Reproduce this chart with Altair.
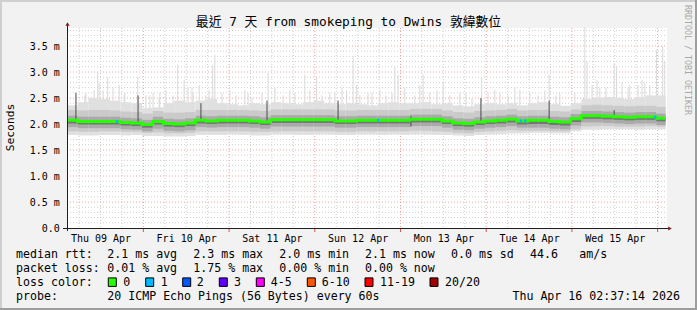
import altair as alt
import pandas as pd

# ---------------- data ----------------
BIN_H = 3  # hours per bin, start = Thu 09 Apr 02:37:14
END_H = 167.6

med = [2.07,2.05,2.05,2.05,2.05,2.03,2.02,1.99,2.05,2.01,
       2.00,2.02,2.07,2.06,2.07,2.07,2.07,2.06,2.04,2.08,
       2.08,2.08,2.08,2.08,2.08,2.06,2.06,2.07,2.07,2.07,
       2.07,2.07,2.09,2.09,2.09,2.06,2.02,2.01,2.04,2.06,
       2.07,2.09,2.06,2.07,2.07,2.05,2.04,2.10,2.16,2.16,
       2.15,2.14,2.13,2.14,2.14,2.11]
top1 = [2.36,2.42,2.50,2.48,2.45,2.42,2.40,2.30,2.32,2.40,2.45,2.42,2.45,2.48,
        2.40,2.38,2.36,2.40,2.38,2.42,2.40,2.38,
        2.42,2.45,2.40,2.38,2.40,2.38,2.36,2.40,
        2.42,2.40,2.40,2.42,2.38,2.40,2.36,2.34,
        2.38,2.40,2.38,2.40,2.36,2.40,2.42,2.38,2.35,
        2.40,2.48,2.50,2.52,2.50,2.48,2.52,2.55,2.55]
bot1 = [1.79,1.78,1.78,1.79,1.79,1.78,1.79,1.77,1.77,1.76,1.76,1.77,1.79,1.79,
        1.79,1.80,1.79,1.78,1.78,1.80,1.80,1.79,
        1.79,1.80,1.80,1.79,1.79,1.80,1.80,1.79,
        1.80,1.79,1.80,1.80,1.79,1.79,1.78,1.77,
        1.79,1.80,1.81,1.82,1.82,1.83,1.83,1.82,1.82,
        1.86,1.89,1.89,1.90,1.90,1.90,1.89,1.90,1.90]
top2 = [2.27,2.26,2.27,2.27,2.26,2.24,2.23,2.20,2.25,2.22,2.22,2.23,2.27,2.27,
        2.27,2.27,2.27,2.26,2.25,2.28,2.28,2.28,
        2.28,2.28,2.28,2.26,2.26,2.27,2.27,2.27,
        2.27,2.27,2.29,2.29,2.29,2.26,2.23,2.22,
        2.25,2.26,2.27,2.29,2.26,2.27,2.27,2.25,2.24,
        2.28,2.36,2.37,2.36,2.35,2.34,2.35,2.35,2.33]
bot2 = [1.86,1.85,1.85,1.86,1.86,1.85,1.85,1.83,1.84,1.82,1.82,1.83,1.86,1.86,
        1.86,1.86,1.86,1.85,1.85,1.86,1.86,1.86,
        1.86,1.86,1.86,1.85,1.85,1.86,1.86,1.86,
        1.86,1.86,1.87,1.87,1.86,1.85,1.83,1.82,
        1.85,1.86,1.87,1.88,1.87,1.87,1.87,1.86,1.86,
        1.90,1.95,1.96,1.96,1.95,1.95,1.95,1.96,1.95]
top3 = [2.16,2.14,2.14,2.14,2.14,2.12,2.11,2.08,2.14,2.10,2.09,2.11,2.16,2.15,
        2.16,2.16,2.16,2.15,2.13,2.17,2.17,2.17,
        2.17,2.17,2.17,2.15,2.15,2.16,2.16,2.16,
        2.16,2.16,2.18,2.18,2.18,2.15,2.11,2.10,
        2.13,2.15,2.16,2.18,2.15,2.16,2.16,2.14,2.13,
        2.19,2.25,2.25,2.24,2.23,2.22,2.23,2.23,2.20]
bot3 = [1.94,1.92,1.92,1.92,1.92,1.90,1.89,1.86,1.91,1.87,1.86,1.88,1.94,1.93,
        1.94,1.94,1.94,1.93,1.91,1.95,1.95,1.95,
        1.95,1.95,1.95,1.93,1.93,1.94,1.94,1.94,
        1.94,1.94,1.96,1.96,1.96,1.93,1.89,1.88,
        1.91,1.93,1.94,1.96,1.93,1.93,1.93,1.91,1.90,
        1.97,2.03,2.03,2.02,2.01,2.00,2.01,2.01,1.98]
bot4 = [2.01,1.99,1.99,1.99,1.99,1.97,1.96,1.93,1.99,1.95,1.94,1.96,2.01,2.00,
        2.01,2.01,2.01,2.00,1.98,2.02,2.02,2.02,
        2.02,2.02,2.02,2.00,2.00,2.01,2.01,2.01,
        2.01,2.01,2.03,2.03,2.03,2.00,1.96,1.95,
        1.98,2.00,2.01,2.03,1.99,2.00,2.00,1.98,1.97,
        2.04,2.10,2.10,2.09,2.08,2.07,2.08,2.08,2.05]

# single-step outliers (hours, top in ms)
spike_t = [5.0,8.6,10.1,11.4,12.9,16.2,19.8,23.2,26.0,31.0,32.8,35.0,37.0,40.8,41.4,
           45.6,50.7,56.3,62.4,66.6,69.9,73.6,78.3,80.1,81.1,84.3,91.8,92.7,99.7,
           105.3,110.0,116.1,121.2,126.8,135.0,138.0,145.0,145.6,149.2,153.2,153.9,
           157.6,159.9,161.8,165.1,166.8,167.4]
spike_top = [2.55,3.00,2.65,2.90,2.70,2.60,2.90,2.55,2.60,3.14,2.85,2.70,2.75,3.14,3.33,
             2.65,2.60,2.98,2.65,2.95,2.90,2.60,2.65,3.30,2.75,2.60,3.10,2.95,2.95,
             2.80,2.60,2.90,2.60,2.65,2.95,2.60,3.86,3.20,2.70,3.17,3.10,
             2.75,2.75,2.80,3.43,3.50,3.20]
# smaller outliers giving the ragged top of the smoke
small_t = [5.3,7.6,9.0,14.6,16.0,22.1,24.1,25.8,27.7,29.7,33.9,35.3,38.9,39.8,
           43.4,47.3,49.8,51.8,54.6,58.2,60.5,63.8,
           68.0,71.4,75.0,77.0,82.0,85.4,87.6,89.3,
           91.0,94.6,97.4,98.8,101.6,103.6,107.2,111.7,113.4,
           117.9,119.8,123.5,125.4,129.6,131.9,133.8,136.9,
           142.2,147.0,148.4,150.9,155.4,157.1,161.0,163.2]
small_top = [2.60,2.65,2.80,2.75,2.55,2.55,2.60,2.50,2.65,2.55,2.70,2.60,2.55,2.65,
             2.60,2.55,2.65,2.50,2.60,2.70,2.55,2.60,
             2.65,2.55,2.60,2.70,2.55,2.60,2.65,2.55,
             2.60,2.70,2.55,2.75,2.60,2.65,2.55,2.60,2.50,
             2.60,2.65,2.55,2.70,2.60,2.55,2.65,2.55,
             2.60,2.75,2.85,2.70,2.80,2.70,2.85,2.75]
# dark vertical strokes
dark_t = [2.5,19.9,37.5,56.0,75.9,96.3,115.9,135.0,153.2]
dark_lo = [2.07,2.02,2.07,2.04,2.06,1.95,2.04,2.05,2.14]
dark_hi = [2.60,2.55,2.40,2.45,2.45,2.15,2.50,2.45,2.27]
# median steps with 1 lost ping
blue_t = [13.7,86.8,126.8,128.0,164.4]
blue_v = [2.05,2.07,2.06,2.06,2.13]

day_labels = ["Thu 09 Apr", "Fri 10 Apr", "Sat 11 Apr", "Sun 12 Apr",
              "Mon 13 Apr", "Tue 14 Apr", "Wed 15 Apr"]
noon_h = [9.379, 33.379, 57.379, 81.379, 105.379, 129.379, 153.379]
midnight_h = [21.379, 45.379, 69.379, 93.379, 117.379, 141.379, 165.379]
six_h = [3.379, 15.379, 27.379, 39.379, 51.379, 63.379, 75.379, 87.379,
         99.379, 111.379, 123.379, 135.379, 147.379, 159.379]
six_h += noon_h
y_major = [0.5, 1.0, 1.5, 2.0, 2.5, 3.0, 3.5]
y_labels = [0.0, 0.5, 1.0, 1.5, 2.0, 2.5, 3.0, 3.5]
y_minor = [round(0.1 * k, 1) for k in range(1, 39) if k % 5]

title = "最近 7 天 from smokeping to Dwins 敦緯數位"
rtt_vals = ["2.1 ms avg", "2.3 ms max", "2.0 ms min", "2.1 ms now", "0.0 ms sd", "44.6", "am/s"]
loss_vals = ["0.01 % avg", "1.75 % max", "0.00 % min", "0.00 % now"]
loss_labels = ["0", "1", "2", "3", "4-5", "6-10", "11-19", "20/20"]
probe_text = "20 ICMP Echo Pings (56 Bytes) every 60s"
stamp = "Thu Apr 16 02:37:14 2026"
watermark = "RRDTOOL / TOBI OETIKER"

# ---------------- styles / layout ----------------
loss_colors = ["#26ff00", "#00b8ff", "#0059ff", "#5e00ff", "#ff00ff", "#ff5500", "#ff0000", "#a00000"]
smoke_colors = ["#e0e0e0", "#cacaca", "#aaaaaa", "#767676"]
MONO = "DejaVu Sans Mono"
CJK = "DejaVu Sans Mono, Noto Sans CJK TC, Noto Sans CJK SC"
LEG = 11.6
W, H = 600, 200
PL, PT = 67, 28
Y_MAX = 200 / 52.0
GRID = "#cfcfcf"
MGRID = "#f0a0a0"

rtt_x = [107.3, 193.3, 279.3, 365, 451, 530, 579.3]
loss_x = [107.3, 193.3, 279.3, 365]
box_x = [108.3, 145.7, 182.7, 219.3, 256.3, 307.3, 365, 430]
lab_x = [123.3, 160.7, 196.7, 234, 270.7, 321.7, 380, 445]
row_y = [258.3, 272.3, 286.2, 300.2]

xs = alt.Scale(domain=[0, 168], nice=False, zero=False)
ys = alt.Scale(domain=[0, Y_MAX], nice=False, zero=False)

n = len(med)
bins = pd.DataFrame({
    "t0": [BIN_H * i for i in range(n)],
    "t1": [min(BIN_H * (i + 1), END_H) for i in range(n)],
    "med": med, "top1": top1, "bot1": bot1, "top2": top2, "bot2": bot2,
    "top3": top3, "bot3": bot3, "bot4": bot4,
})
line_df = pd.DataFrame({"t": list(bins["t0"]) + [END_H], "med": med + [med[-1]]})
spikes = pd.DataFrame({"t": spike_t + small_t, "top": spike_top + small_top})
darks = pd.DataFrame({"t": dark_t, "lo": dark_lo, "hi": dark_hi})
blues = pd.DataFrame({"t": blue_t, "v": blue_v})
one = pd.DataFrame({"d": [0]})

x_axis = alt.Axis(values=noon_h, labelExpr="%s[round((datum.value - 9.379) / 24)]" % str(day_labels),
                  labelFont=MONO, labelFontSize=10, labelColor="#000000", labelAlign="center",
                  labelBaseline="alphabetic", labelPadding=13.7, ticks=False, tickSize=0,
                  domain=False, grid=False, title=None, labelOverlap=False, labelFlush=False)
y_axis = alt.Axis(values=y_labels,
                  labelExpr="datum.value == 0 ? '0.0' : format(datum.value, '.1f') + ' m'",
                  labelFont=MONO, labelFontSize=10, labelColor="#000000", labelAlign="right",
                  labelBaseline="middle", labelPadding=7.7, ticks=False, tickSize=0,
                  domain=False, grid=False, title="Seconds", titleFont=MONO, titleFontSize=11.3,
                  titleFontWeight="normal", titleColor="#000000", titleAngle=270,
                  titleX=-57, titleY=99, titleAlign="center", titleBaseline="middle")


def X(f):
    return alt.X(f, scale=xs, axis=x_axis)


def Y(f):
    return alt.Y(f, scale=ys, axis=y_axis)


def px(x):
    return x - PL


def py(y):
    return y - PT


def text_layer(s, x, y, size=LEG, align="left", font=MONO, color="#000000", angle=0, baseline="alphabetic"):
    return alt.Chart(one).mark_text(text=s, align=align, baseline=baseline, font=font,
                                    fontSize=size, color=color, angle=angle).encode(
        x=alt.value(px(x)), y=alt.value(py(y)))


layers = []

# frame shading
layers.append(alt.Chart(one).mark_rect(color="#cfcfcf").encode(
    x=alt.value(px(0)), x2=alt.value(px(697)), y=alt.value(py(0)), y2=alt.value(py(2))))
layers.append(alt.Chart(one).mark_rect(color="#cfcfcf").encode(
    x=alt.value(px(0)), x2=alt.value(px(2)), y=alt.value(py(0)), y2=alt.value(py(310))))
layers.append(alt.Chart(one).mark_rect(color="#9e9e9e").encode(
    x=alt.value(px(0)), x2=alt.value(px(697)), y=alt.value(py(308)), y2=alt.value(py(310))))
layers.append(alt.Chart(one).mark_rect(color="#9e9e9e").encode(
    x=alt.value(px(695)), x2=alt.value(px(697)), y=alt.value(py(0)), y2=alt.value(py(310))))

# grid
layers.append(alt.Chart(pd.DataFrame({"v": y_minor})).mark_rule(
    color=GRID, strokeDash=[1, 2], strokeWidth=1).encode(
    y=Y("v:Q"), x=alt.value(0), x2=alt.value(W)))
layers.append(alt.Chart(pd.DataFrame({"t": six_h})).mark_rule(
    color=GRID, strokeDash=[1, 2], strokeWidth=1).encode(
    x=X("t:Q"), y=alt.value(0), y2=alt.value(H)))
layers.append(alt.Chart(pd.DataFrame({"v": y_major})).mark_rule(
    color=MGRID, strokeDash=[1, 2], strokeWidth=1).encode(
    y=Y("v:Q"), x=alt.value(0), x2=alt.value(W)))
layers.append(alt.Chart(pd.DataFrame({"t": midnight_h})).mark_rule(
    color=MGRID, strokeDash=[1, 2], strokeWidth=1).encode(
    x=X("t:Q"), y=alt.value(0), y2=alt.value(H)))

# smoke: outliers then nested bands
layers.append(alt.Chart(spikes).mark_rule(color="#d8d8d8", strokeWidth=1).transform_calculate(
    base="2.1").encode(x=X("t:Q"), y=Y("top:Q"), y2="base:Q"))
bands = [("bot1", "top1"), ("bot2", "top2"), ("bot3", "top3"), ("bot4", "med")]
for k, (lo, hi) in enumerate(bands):
    layers.append(alt.Chart(bins).mark_rect(color=smoke_colors[k]).encode(
        x=X("t0:Q"), x2="t1:Q", y=Y(lo + ":Q"), y2=hi + ":Q"))
layers.append(alt.Chart(darks).mark_rule(color="#4a4a4a", strokeWidth=1).encode(
    x=X("t:Q"), y=Y("lo:Q"), y2="hi:Q"))

# median line
layers.append(alt.Chart(line_df).mark_line(interpolate="step-after", strokeWidth=3,
                                           color=loss_colors[0]).encode(
    x=X("t:Q"), y=Y("med:Q")))
layers.append(alt.Chart(blues).mark_rule(strokeWidth=3, color=loss_colors[1], strokeCap="butt").transform_calculate(
    t2="datum.t + 0.6").encode(x=X("t:Q"), x2="t2:Q", y=Y("v:Q")))

# axes lines, ticks, arrows
layers.append(alt.Chart(pd.DataFrame({"t": midnight_h})).mark_rule(color="#de4f4f", strokeWidth=1).encode(
    x=X("t:Q"), y=alt.value(H), y2=alt.value(H + 4)))
layers.append(alt.Chart(one).mark_rule(color="#1f1f1f", strokeWidth=1).encode(
    x=alt.value(-4), x2=alt.value(W + 3), y=alt.value(H + 0.5)))
layers.append(alt.Chart(one).mark_rule(color="#1f1f1f", strokeWidth=1).encode(
    x=alt.value(0.5), y=alt.value(H + 3), y2=alt.value(-4)))
layers.append(alt.Chart(one).mark_point(shape="triangle-up", filled=True, size=18, color="#801f1f", opacity=1).encode(
    x=alt.value(0.5), y=alt.value(-4)))
layers.append(alt.Chart(one).mark_point(shape="triangle-right", filled=True, size=18, color="#801f1f", opacity=1).encode(
    x=alt.value(W + 3), y=alt.value(H + 0.5)))

# title and watermark
layers.append(text_layer(title, 348.5, 26, size=12.8, align="center", font=CJK))
layers.append(text_layer(watermark, 687, 60, size=8.3, align="center", color="#a8a8a8",
                         angle=90, baseline="middle"))

# legend
layers.append(text_layer("median rtt:", 16, row_y[0]))
for s, x in zip(rtt_vals, rtt_x):
    layers.append(text_layer(s, x, row_y[0]))
layers.append(text_layer("packet loss:", 16, row_y[1]))
for s, x in zip(loss_vals, loss_x):
    layers.append(text_layer(s, x, row_y[1]))
layers.append(text_layer("loss color:", 16, row_y[2]))
for s, c, bx, lx in zip(loss_labels, loss_colors, box_x, lab_x):
    layers.append(alt.Chart(one).mark_rect(color=c, stroke="#000000", strokeWidth=1).encode(
        x=alt.value(px(bx)), x2=alt.value(px(bx + 8)),
        y=alt.value(py(row_y[2] - 8.3)), y2=alt.value(py(row_y[2] + 0.2))))
    layers.append(text_layer(s, lx, row_y[2]))
layers.append(text_layer("probe:", 16, row_y[3]))
layers.append(text_layer(probe_text, 107.3, row_y[3]))
layers.append(text_layer(stamp, 680, row_y[3], align="right"))

chart = alt.layer(*layers).properties(
    width=W, height=H,
    padding={"left": PL, "top": PT, "right": 697 - PL - W, "bottom": 310 - PT - H},
    autosize=alt.AutoSizeParams(type="none"),
    background="#f2f2f2",
).configure_view(fill="#ffffff", stroke=None)

chart.save("out.html", embed_options={"renderer": "svg", "actions": False})
